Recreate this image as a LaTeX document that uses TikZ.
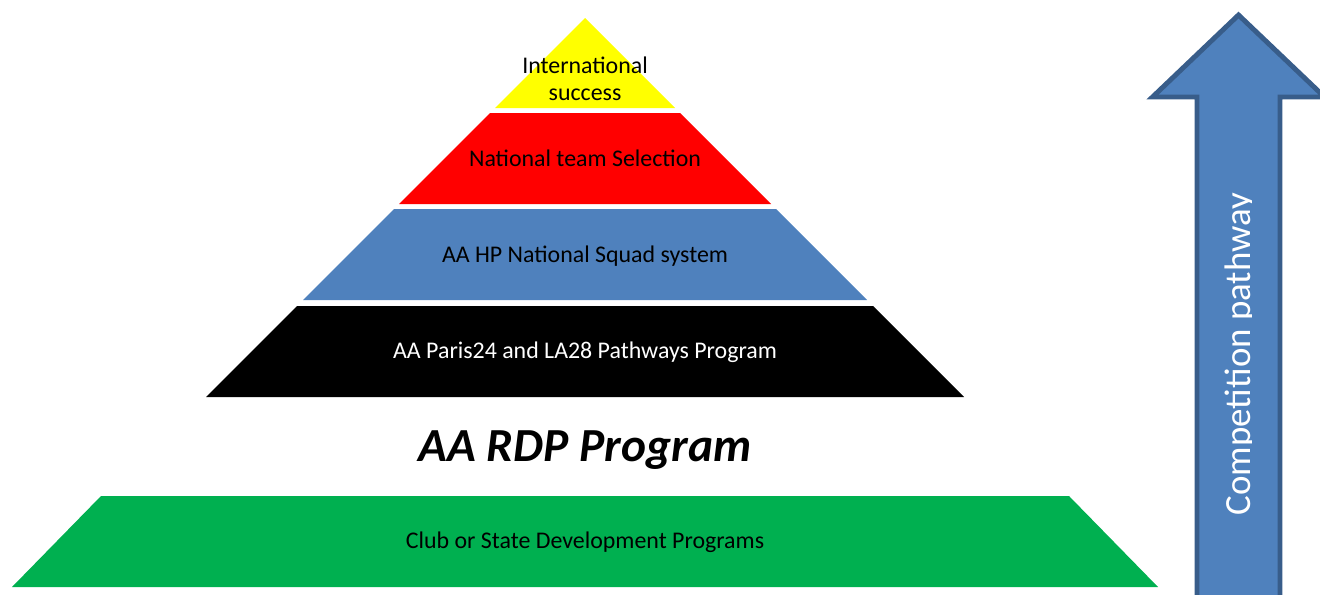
\documentclass[tikz,border=0pt]{standalone}
\usepackage{fontspec}
\setmainfont{Carlito}
\usepackage{tikz}
\definecolor{pyryellow}{HTML}{FFFF00}
\definecolor{pyrred}{HTML}{FF0000}
\definecolor{pyrblue}{HTML}{4F81BD}
\definecolor{pyrgreen}{HTML}{00B050}
\definecolor{arrowedge}{HTML}{385D8A}
\tikzstyle{every node}=[font=\fontsize{6.8}{7.7}\selectfont]
\tikzstyle{band label}=[anchor=base]

\begin{document}
\begin{tikzpicture}
\useasboundingbox (0,0) rectangle (13.2,5.94);
\clip (0,0) rectangle (13.2,5.94);

 \fill [pyryellow] (5.85,5.76) -- (6.75,4.86) -- (4.95,4.86) -- cycle;
 \node (intl) at (5.85,5.15) [align=center] {International\\success};

 \fill [pyrred] (4.90,4.81) -- (6.80,4.81) -- (7.71,3.90) -- (3.99,3.90) -- cycle;
 \node [band label] (natsel) at (5.85,4.28) {National team Selection};

 \fill [pyrblue] (3.94,3.85) -- (7.76,3.85) -- (8.67,2.94) -- (3.03,2.94) -- cycle;
 \node [band label] (squad) at (5.85,3.32) {AA HP National Squad system};

 \fill [black] (2.97,2.88) -- (8.73,2.88) -- (9.64,1.97) -- (2.06,1.97) -- cycle;
 \node [band label,white] (pathways) at (5.85,2.36) {AA Paris24 and LA28 Pathways Program};

 \node [band label] (rdp) at (5.85,1.33) {\fontsize{13.5}{16}\selectfont\bfseries\itshape AA RDP Program};

 \fill [pyrgreen] (1.01,0.98) -- (10.69,0.98) -- (11.58,0.07) -- (0.12,0.07) -- cycle;
 \node [band label] (club) at (5.85,0.46) {Club or State Development Programs};

\filldraw [fill=pyrblue, draw=arrowedge, line width=1.4pt] (11.97,-0.2) -- (11.97,4.97) -- (11.525,4.97) -- (12.385,5.79) -- (13.245,4.97) -- (12.80,4.97) -- (12.80,-0.2) -- cycle;
\begin{scope}
 \clip (11.9,0) rectangle (12.515,5.0);
 \node [band label,white,rotate=90,font=\fontsize{10.5}{12}\selectfont] (comp) at (12.50,2.40) {Competition pathway};
\end{scope}
\end{tikzpicture}
\end{document}
